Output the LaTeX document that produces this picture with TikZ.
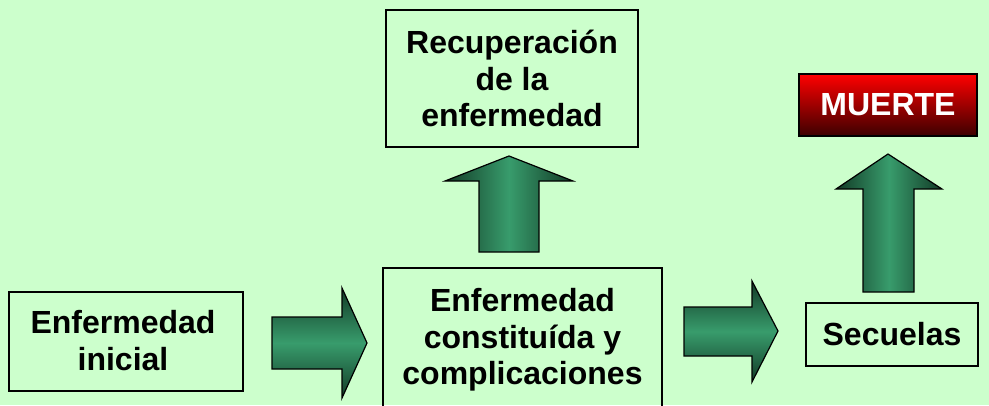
\documentclass[tikz,border=0pt]{standalone}
\usepackage{fontspec}
\setmainfont{Liberation Sans}
\definecolor{bgg}{RGB}{204,255,204}
\definecolor{arrmid}{RGB}{56,156,108}
\definecolor{arrdark}{RGB}{18,58,38}
\definecolor{redtop}{RGB}{255,0,0}
\definecolor{redbot}{RGB}{60,0,0}
\tikzset{
  txt/.style={font=\fontsize{32}{36.5}\selectfont\bfseries, align=center, text=black},
  box/.style={txt, draw=black, line width=1.3pt, rectangle, inner sep=0pt},
  uparr/.style={draw=black, line width=1.2pt, line join=miter, left color=arrdark, right color=arrdark, middle color=arrmid},
  rtarr/.style={draw=black, line width=1.2pt, line join=miter, top color=arrdark, bottom color=arrdark, middle color=arrmid},
}
\begin{document}
\begin{tikzpicture}[x=1pt,y=-1pt]
\fill[bgg] (0,0) rectangle (989,405);
\useasboundingbox (0,0) rectangle (989,405);
% boxes
\node[box, minimum width=234pt, minimum height=99pt] (ini) at (126,341.5) {};
\node[txt] (initxt) at (123,340.5) {Enfermedad\\inicial};
\node[box, minimum width=252pt, minimum height=137pt] (rec) at (512,78.5) {Recuperación\\de la\\enfermedad};
\node[box, minimum width=279pt, minimum height=144pt] (con) at (522.5,340) {Enfermedad\\constituída y\\complicaciones};
\node[box, minimum width=172pt, minimum height=63pt] (sec) at (892,334.5) {Secuelas};
\node[txt, draw=black, line width=1.3pt, top color=redtop, bottom color=redbot, text=white, minimum width=178pt, minimum height=62pt, inner sep=0pt] (mue) at (888,105) {MUERTE};
% block arrows
\path[rtarr] (272,317) -- (342,317) -- (342,288) -- (367,343) -- (342,398) -- (342,369) -- (272,369) -- cycle;
\path[rtarr] (684,307) -- (752,307) -- (752,281) -- (778,331) -- (752,382) -- (752,356) -- (684,356) -- cycle;
\path[uparr] (479,252) -- (479,181) -- (445,181) -- (509,156) -- (573,181) -- (539,181) -- (539,252) -- cycle;
\path[uparr] (863,292) -- (863,189) -- (836,189) -- (888,154) -- (942,189) -- (914,189) -- (914,292) -- cycle;
\end{tikzpicture}
\end{document}
